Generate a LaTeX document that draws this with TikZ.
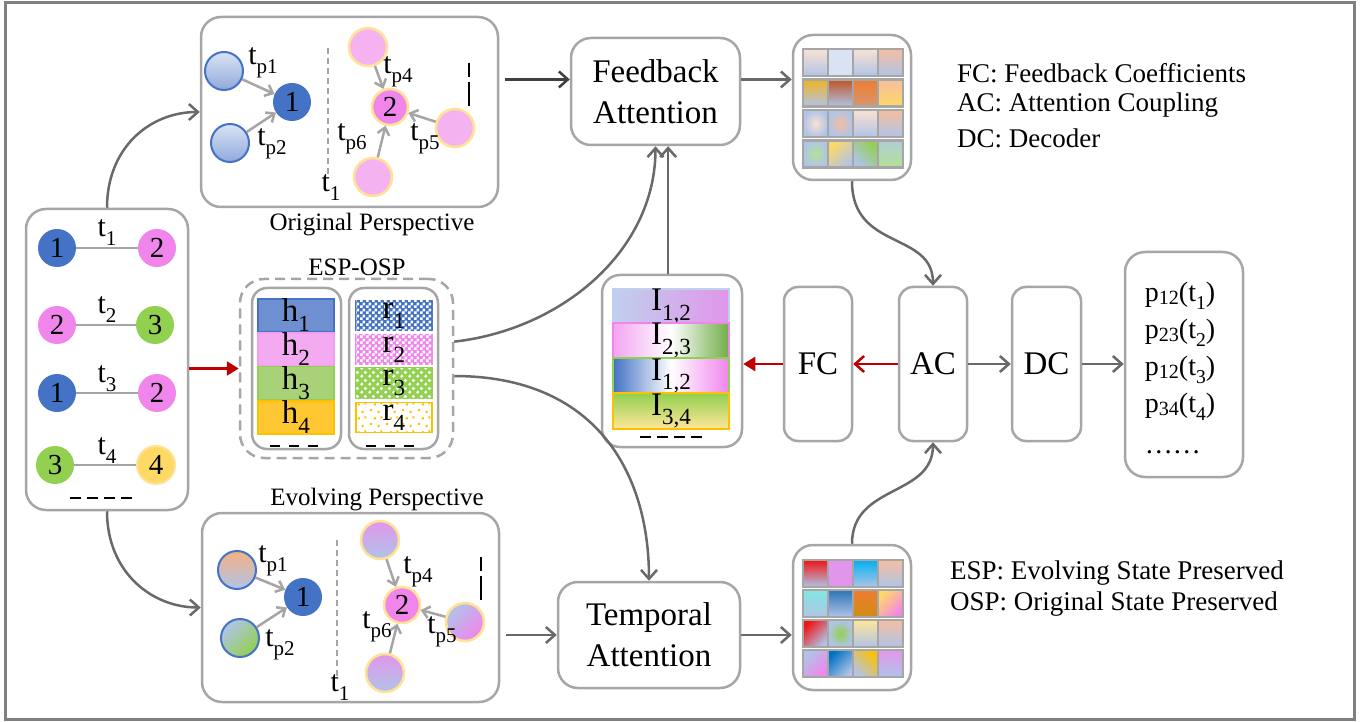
\documentclass[tikz,border=0pt]{standalone}
\usepackage{fontspec}
\setmainfont{Liberation Serif}
\usepackage{graphicx}
\usetikzlibrary{arrows.meta,patterns,calc}

% palette
\definecolor{framegray}{RGB}{128,128,128}
\definecolor{boxgray}{RGB}{166,166,166}
\definecolor{arrgray}{RGB}{105,105,105}
\definecolor{lgray}{RGB}{165,165,165}
\definecolor{nblue}{RGB}{68,114,196}
\definecolor{npink}{RGB}{240,134,236}
\definecolor{ngreen}{RGB}{146,208,80}
\definecolor{dgreen}{RGB}{112,173,71}
\definecolor{nyellow}{RGB}{255,217,102}
\definecolor{yborder}{RGB}{255,226,150}
\definecolor{lpink}{RGB}{245,178,240}
\definecolor{lblue}{RGB}{176,196,232}
\definecolor{pblue}{RGB}{218,227,243}
\definecolor{cblue}{RGB}{143,170,220}
\definecolor{darkred}{RGB}{192,0,0}
\definecolor{cpeachl}{RGB}{250,225,210}
\definecolor{cpeach}{RGB}{245,190,160}
\definecolor{cgold}{RGB}{240,180,30}
\definecolor{cbrown}{RGB}{190,85,40}
\definecolor{corange}{RGB}{237,125,49}
\definecolor{corange2}{RGB}{215,150,110}
\definecolor{cyell}{RGB}{255,217,102}
\definecolor{clgreen}{RGB}{180,225,150}
\definecolor{cred}{RGB}{240,20,20}
\definecolor{cviolet}{RGB}{225,150,235}
\definecolor{ccyan}{RGB}{0,176,240}
\definecolor{caqua}{RGB}{130,230,225}
\definecolor{cdblue}{RGB}{46,117,182}
\definecolor{cdorange}{RGB}{210,140,20}
\definecolor{cpyell}{RGB}{255,230,153}
\definecolor{cmblue}{RGB}{0,112,192}
\definecolor{cgoldy}{RGB}{255,192,0}
\definecolor{cgreengray}{RGB}{175,205,215}
\definecolor{hblue}{RGB}{110,144,209}
\definecolor{hpink}{RGB}{244,170,240}
\definecolor{hgreen}{RGB}{169,209,120}
\definecolor{hyellow}{RGB}{255,200,50}
\definecolor{cpeachc}{RGB}{244,177,131}

% fill patterns for the preserved-state bars
\pgfdeclarepatternformonly{finechecker}{\pgfpointorigin}{\pgfqpoint{6pt}{6pt}}{\pgfqpoint{6pt}{6pt}}{%
  \pgfpathrectangle{\pgfpointorigin}{\pgfqpoint{3pt}{3pt}}%
  \pgfpathrectangle{\pgfqpoint{3pt}{3pt}}{\pgfqpoint{3pt}{3pt}}%
  \pgfusepath{fill}}
\pgfdeclarepatternformonly{bubbles}{\pgfpointorigin}{\pgfqpoint{8pt}{8pt}}{\pgfqpoint{8pt}{8pt}}{%
  \pgfpathcircle{\pgfqpoint{2pt}{2pt}}{1.9pt}%
  \pgfpathcircle{\pgfqpoint{6pt}{6pt}}{1.9pt}%
  \pgfusepath{fill}}
\pgfdeclarepatternformonly{sparsedots}{\pgfpointorigin}{\pgfqpoint{16pt}{14pt}}{\pgfqpoint{16pt}{14pt}}{%
  \pgfpathrectangle{\pgfqpoint{2pt}{3pt}}{\pgfqpoint{2.2pt}{2.2pt}}%
  \pgfpathrectangle{\pgfqpoint{10pt}{1pt}}{\pgfqpoint{2.2pt}{2.2pt}}%
  \pgfpathrectangle{\pgfqpoint{6pt}{9pt}}{\pgfqpoint{2.2pt}{2.2pt}}%
  \pgfpathrectangle{\pgfqpoint{13pt}{10pt}}{\pgfqpoint{2.2pt}{2.2pt}}%
  \pgfusepath{fill}}

\newcommand{\fsz}[1]{\fontsize{#1}{#1}\selectfont}
\newcommand{\lsub}[1]{\raisebox{-0.3em}{\scalebox{0.7}{#1}}}
\newcommand{\osub}[1]{\raisebox{-0.12em}{\scalebox{0.72}{#1}}}
\newcommand{\fcell}[3]{\path[draw=boxgray,line width=2.5pt,#3] (#1,#2) rectangle ++(25,27);}

\tikzset{
  panel/.style={draw=boxgray, line width=2.5pt, rounded corners=20pt, fill=white, inner sep=0pt},
  blk/.style={draw=boxgray, line width=2.5pt, rounded corners=14pt, fill=white, inner sep=0pt,
              align=center, font=\fontsize{33}{41}\selectfont},
  conn/.style={draw=arrgray, line width=2.5pt, -{Straight Barb[length=9pt,width=16pt]}},
  redbarb/.style={draw=darkred, line width=2.5pt, -{Straight Barb[length=9pt,width=16pt]}},
  redtri/.style={draw=darkred, line width=2.5pt, -{Triangle[length=12pt,width=14pt]}},
  carr/.style={draw=lgray, line width=2.5pt, -{Straight Barb[length=7pt,width=12pt]}},
  edgeline/.style={draw=lgray, line width=2.5pt},
  cnode/.style={circle, minimum size=38pt, inner sep=0pt, font=\fsz{29}},
  tlab/.style={font=\fsz{30}, inner sep=0pt},
  bar/.style={minimum width=76pt, minimum height=30pt, inner sep=0pt, line width=1.8pt, font=\fsz{33}},
  ibar/.style={minimum width=116pt, minimum height=29pt, inner sep=0pt, line width=2pt, font=\fsz{33}},
  blackdash/.style={draw=black, line width=2.5pt, dash pattern=on 11pt off 6pt},
  vdash/.style={draw=black, line width=2.5pt, dash pattern=on 14pt off 5pt on 24pt off 5pt},
  thindash/.style={draw=lgray, line width=2pt, dash pattern=on 6pt off 4pt},
  legend/.style={anchor=west, font=\fsz{27}, inner sep=0pt},
}

\begin{document}
\begin{tikzpicture}[x=1pt,y=-1pt]
\useasboundingbox (0,0) rectangle (1369,722);
\draw[framegray, line width=3pt] (5,2.5) rectangle (1354,719);

% ---------------- input interactions ----------------
\node[panel, minimum width=162pt, minimum height=301pt] (inp) at (107,359.5) {};
\node[cnode, fill=nblue]  (a1) at (57,248) {1};
\node[cnode, fill=npink]  (b1) at (157,248) {2};
\node[cnode, fill=npink]  (a2) at (57,325) {2};
\node[cnode, fill=ngreen] (b2) at (155,325) {3};
\node[cnode, fill=nblue]  (a3) at (57,393) {1};
\node[cnode, fill=npink]  (b3) at (157,393) {2};
\node[cnode, fill=ngreen] (a4) at (55,465) {3};
\node[cnode, fill=nyellow, draw=yborder, line width=2pt] (b4) at (156,465) {4};
\draw[edgeline] (a1) -- (b1);
\draw[edgeline] (a2) -- (b2);
\draw[edgeline] (a3) -- (b3);
\draw[edgeline] (a4) -- (b4);
\node[tlab] at (107,233) {t\lsub{1}};
\node[tlab] at (107,310) {t\lsub{2}};
\node[tlab] at (107,379) {t\lsub{3}};
\node[tlab] at (107,451) {t\lsub{4}};
\draw[blackdash] (70,498) -- (132,498);

% ---------------- original perspective ----------------
\node[panel, minimum width=297pt, minimum height=190pt] (orig) at (349.5,112) {};
\node[font=\fsz{25}] at (372,225) {Original Perspective};
\node[cnode, top color=pblue, bottom color=cblue, draw=nblue, line width=2pt] (o1a) at (224,71) {};
\node[cnode, top color=pblue, bottom color=cblue, draw=nblue, line width=2pt] (o1b) at (230,143) {};
\node[cnode, fill=nblue] (o1) at (292,102) {1};
\draw[thindash] (328,48) -- (328,175);
\node[tlab] at (331,188) {t\lsub{1}};
\node[cnode, fill=lpink, draw=yborder, line width=2.5pt] (o2a) at (368,47) {};
\node[cnode, fill=npink, draw=yborder, line width=2.5pt, minimum size=36pt] (o2) at (390,107) {2};
\node[cnode, fill=lpink, draw=yborder, line width=2.5pt] (o2b) at (455,128) {};
\node[cnode, fill=lpink, draw=yborder, line width=2.5pt] (o2c) at (373,177) {};
\draw[carr] (o1a) -- (o1);
\draw[carr] (o1b) -- (o1);
\draw[carr] (o2a) -- (o2);
\draw[carr] (o2b) -- (o2);
\draw[carr] (o2c) -- (o2);
\draw[vdash] (469,63) -- (469,106);
\node[tlab] at (263,63) {t\lsub{p1}};
\node[tlab] at (272,144) {t\lsub{p2}};
\node[tlab] at (398,72) {t\lsub{p4}};
\node[tlab] at (425,139) {t\lsub{p5}};
\node[tlab] at (352,139) {t\lsub{p6}};

% ---------------- evolving perspective ----------------
\node[panel, minimum width=297pt, minimum height=189pt] (evo) at (350.5,607.5) {};
\node[font=\fsz{25}] at (377,500) {Evolving Perspective};
\node[cnode, top color=cpeachc, bottom color=lblue, draw=nblue, line width=2pt] (e1a) at (237,570) {};
\node[cnode, top color=lblue, bottom color=ngreen, shading angle=45, draw=nblue, line width=2pt] (e1b) at (240,638) {};
\node[cnode, fill=nblue] (e1) at (303,597) {1};
\draw[thindash] (337,540) -- (337,680);
\node[tlab] at (340,688) {t\lsub{1}};
\node[cnode, top color=cviolet, bottom color=lblue, draw=yborder, line width=2.5pt] (e2a) at (380,540) {};
\node[cnode, fill=npink, draw=yborder, line width=2.5pt, minimum size=36pt] (e2) at (402,605) {2};
\node[cnode, top color=lblue, bottom color=npink, shading angle=45, draw=yborder, line width=2.5pt] (e2b) at (465,622) {};
\node[cnode, top color=cviolet, bottom color=lblue, draw=yborder, line width=2.5pt] (e2c) at (385,673) {};
\draw[carr] (e1a) -- (e1);
\draw[carr] (e1b) -- (e1);
\draw[carr] (e2a) -- (e2);
\draw[carr] (e2b) -- (e2);
\draw[carr] (e2c) -- (e2);
\draw[vdash] (481,557) -- (481,600);
\node[tlab] at (273,561) {t\lsub{p1}};
\node[tlab] at (280,645) {t\lsub{p2}};
\node[tlab] at (418,572) {t\lsub{p4}};
\node[tlab] at (442,632) {t\lsub{p5}};
\node[tlab] at (377,627) {t\lsub{p6}};

% ---------------- ESP-OSP states ----------------
\node[font=\fsz{25}] at (357,267) {ESP-OSP};
\node[draw=boxgray, line width=2.5pt, dash pattern=on 10pt off 6pt, rounded corners=24pt,
      minimum width=213pt, minimum height=179pt, inner sep=0pt] (esp) at (346.5,368.5) {};
\node[panel, rounded corners=15pt, minimum width=89pt, minimum height=161pt] (hbox) at (296.5,368.5) {};
\node[panel, rounded corners=15pt, minimum width=89pt, minimum height=161pt] (rbox) at (393.5,368.5) {};
\node[bar, fill=hblue, draw=nblue]     (h1) at (296,315.5) {h\lsub{1}};
\node[bar, fill=hpink, draw=npink!80]  (h2) at (296,349.5) {h\lsub{2}};
\node[bar, fill=hgreen, draw=ngreen]   (h3) at (296,383) {h\lsub{3}};
\node[bar, fill=hyellow, draw=cgoldy]  (h4) at (296,417.5) {h\lsub{4}};
\node[bar, fill=nblue, draw=nblue, postaction={pattern=finechecker, pattern color=white}] (r1) at (394,315.5) {r\lsub{1}};
\node[bar, fill=npink, draw=npink, postaction={pattern=finechecker, pattern color=white}] (r2) at (394,349.5) {r\lsub{2}};
\node[bar, fill=ngreen, draw=ngreen, postaction={pattern=bubbles, pattern color=white}] (r3) at (394,383) {r\lsub{3}};
\node[bar, fill=white, draw=cgoldy, postaction={pattern=sparsedots, pattern color=cgoldy}] (r4) at (394,417.5) {r\lsub{4}};
\draw[blackdash, dash pattern=on 10pt off 9pt] (270,446) -- (318,446);
\draw[blackdash, dash pattern=on 10pt off 9pt] (366,446) -- (414,446);

% ---------------- attention blocks ----------------
\node[blk, rounded corners=20pt, minimum width=169pt, minimum height=107pt] (fa) at (655.5,91.5) {Feedback\\Attention};
\node[blk, rounded corners=20pt, minimum width=182pt, minimum height=106pt] (ta) at (649,635) {Temporal\\Attention};

% ---------------- feature maps ----------------
\node[panel, minimum width=118pt, minimum height=145pt] (f1) at (852,107.5) {};
\node[panel, minimum width=118pt, minimum height=145pt] (f2) at (852,617.5) {};

\fcell{803}{49}{top color=cpeachl,bottom color=lblue}
\fcell{828}{49}{fill=pblue}
\fcell{853}{49}{top color=cpeachl,bottom color=lblue}
\fcell{878}{49}{top color=cpeach,bottom color=lblue}
\fcell{803}{79.5}{top color=cgold,bottom color=lblue}
\fcell{828}{79.5}{top color=cbrown,bottom color=lblue}
\fcell{853}{79.5}{top color=corange,bottom color=corange2}
\fcell{878}{79.5}{top color=cpeach,bottom color=cyell}
\fcell{803}{110}{inner color=cpeachl,outer color=lblue}
\fcell{828}{110}{inner color=cpeach,outer color=lblue}
\fcell{853}{110}{top color=cpeachl,bottom color=lblue}
\fcell{878}{110}{top color=cpeach,bottom color=lblue}
\fcell{803}{140.5}{inner color=clgreen,outer color=lblue}
\fcell{828}{140.5}{top color=cyell,bottom color=lblue,shading angle=45}
\fcell{853}{140.5}{top color=ngreen,bottom color=lblue,shading angle=-45}
\fcell{878}{140.5}{top color=cgreengray,bottom color=clgreen}

\fcell{803}{560}{top color=cred,bottom color=lblue}
\fcell{828}{560}{fill=cviolet}
\fcell{853}{560}{top color=ccyan,bottom color=lblue}
\fcell{878}{560}{top color=cpeach,bottom color=lblue}
\fcell{803}{590}{top color=caqua,bottom color=lblue}
\fcell{828}{590}{top color=cdblue,bottom color=lblue}
\fcell{853}{590}{top color=corange,bottom color=cdorange}
\fcell{878}{590}{top color=cyell,bottom color=npink,shading angle=45}
\fcell{803}{620}{top color=cred,bottom color=lblue,shading angle=45}
\fcell{828}{620}{inner color=ngreen,outer color=lblue}
\fcell{853}{620}{top color=cpyell,bottom color=lblue}
\fcell{878}{620}{top color=cpeach,bottom color=lblue}
\fcell{803}{650}{top color=lblue,bottom color=npink,shading angle=45}
\fcell{828}{650}{top color=cmblue,bottom color=lblue,shading angle=45}
\fcell{853}{650}{top color=cgoldy,bottom color=lblue,shading angle=-45}
\fcell{878}{650}{top color=cviolet,bottom color=lblue}

% ---------------- interaction features ----------------
\node[panel, rounded corners=18pt, minimum width=140pt, minimum height=172pt] (ibox) at (672,361) {};
\node[ibar, left color=lblue!80!white, right color=cviolet, draw=lblue!80!white] (i1) at (671,306.5) {I\lsub{1,2}};
\node[ibar, left color=npink!75, right color=dgreen, middle color=white, draw=npink] (i2) at (671,340.5) {I\lsub{2,3}};
\node[ibar, left color=nblue, right color=npink, middle color=white, draw=ngreen] (i3) at (671,376) {I\lsub{1,2}};
\node[ibar, top color=ngreen, bottom color=cpyell, draw=cgoldy] (i4) at (671,411) {I\lsub{3,4}};
\draw[blackdash, dash pattern=on 11pt off 6pt] (640,437) -- (702,437);

% ---------------- coupling / decoding ----------------
\node[blk, minimum width=68pt, minimum height=154pt] (fc) at (818,364) {FC};
\node[blk, minimum width=68pt, minimum height=154pt] (ac) at (933,364) {AC};
\node[blk, minimum width=69pt, minimum height=154pt] (dc) at (1046.5,364) {DC};
\node[panel, minimum width=118pt, minimum height=225pt] (out) at (1184,364.5) {};
\node[align=left, font=\fontsize{28}{37}\selectfont, inner sep=0pt] at (1180,368)
  {p\osub{12}(t\lsub{1})\\p\osub{23}(t\lsub{2})\\p\osub{12}(t\lsub{3})\\p\osub{34}(t\lsub{4})\\[4pt]……};

% ---------------- legend ----------------
\node[legend] at (957,73)  {FC: Feedback Coefficients};
\node[legend] at (957,105) {AC: Attention Coupling};
\node[legend] at (957,138) {DC: Decoder};
\node[legend] at (950,573) {ESP: Evolving State Preserved};
\node[legend] at (950,604) {OSP: Original State Preserved};

% ---------------- connectors ----------------
\draw[conn] (inp.north) .. controls ($(inp.north)+(0,-60)$) and ($(orig.west)+(-50,0)$) .. (orig.west);
\draw[conn] (inp.south) .. controls ($(inp.south)+(0,60)$) and ($(evo.west)+(-50,0)$) .. (evo.west);
\draw[redtri] (inp.east |- esp.west) -- (esp.west);
\draw[conn, draw=black!75, shorten <=6pt] (orig.east |- fa.172) -- (fa.172);
\draw[conn] (fa.8) -- (fa.8 -| f1.west);
\draw[conn, shorten <=6pt] (evo.east |- ta.west) -- (ta.west);
\draw[conn] (ta.east) -- (ta.east -| f2.west);
\draw[conn] (esp.14) .. controls ($(esp.14)+(107,-12)$) and ($(fa.south)+(0,105)$) .. (fa.south);
\draw[conn] (esp.-4) .. controls ($(esp.-4)+(140,0)$) and ($(ta.north)+(0,-110)$) .. (ta.north);
\draw[conn] (fa.-77 |- ibox.north) -- (fa.-77);
\draw[conn] (f1.south) .. controls ($(f1.south)+(0,70)$) and ($(ac.north)+(0,-55)$) .. (ac.north);
\draw[conn] (f2.north) .. controls ($(f2.north)+(0,-60)$) and ($(ac.south)+(0,55)$) .. (ac.south);
\draw[redbarb] (ac.west) -- (fc.east);
\draw[redtri] (fc.west) -- (fc.west -| ibox.east);
\draw[conn] (ac.east) -- (dc.west);
\draw[conn] (dc.east) -- (dc.east -| out.west);
\end{tikzpicture}
\end{document}
